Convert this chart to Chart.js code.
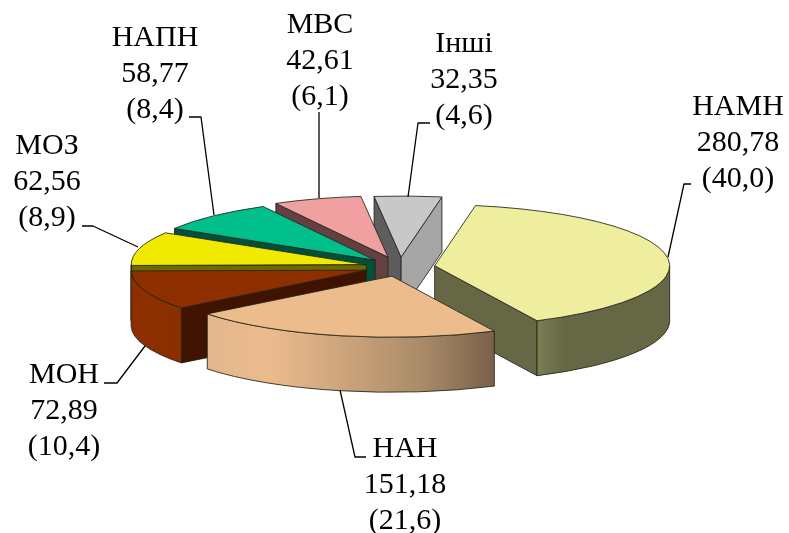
<!DOCTYPE html>
<html lang="uk">
<head>
<meta charset="utf-8">
<title>Pie</title>
<script src="https://cdn.jsdelivr.net/npm/chart.js@4"></script>
<style>
html,body{margin:0;padding:0;background:#fff}
canvas{display:block}
</style>
</head>
<body>
<canvas id="c" width="789" height="533"></canvas>
<script>
// --- data ---
const categories = ['НАМН', 'НАН', 'МОН', 'МОЗ', 'НАПН', 'МВС', 'Інші'];
const amounts = [280.78, 151.18, 72.89, 62.56, 58.77, 42.61, 32.35];
const shares = [40.0, 21.6, 10.4, 8.9, 8.4, 6.1, 4.6];

// --- styles ---
const topColors = ['#EEEE9E', '#EDBC8C', '#8E2F00', '#F0EA00', '#00BF8A', '#F0A0A0', '#C8C8C8'];
const startWallColors = ['#666845', '#B8966F', '#3F1300', '#6E6A00', '#00513B', '#644040', '#5D5D5D'];
const endWallColors = ['#666845', '#7F654D', '#3F1300', '#6E6A00', '#00513B', '#644040', '#A6A6A6'];
const outerWallStops = [
  [[0, '#7C7E54'], [0.2, '#666845'], [1, '#666845']],
  [[0, '#E3B78D'], [0.22, '#EBBB8D'], [0.5, '#C9A27A'], [0.75, '#A98B68'], [1, '#7A604A']],
  [[0, '#8E2F00'], [1, '#8A2E00']],
  [[0, '#6E6A00'], [1, '#6E6A00']],
  [[0, '#00513B'], [1, '#00513B']],
  [[0, '#644040'], [1, '#644040']],
  [[0, '#5D5D5D'], [1, '#5D5D5D']]
];
const explode = [35, 36, 36, 35, 36, 40, 38];
const paintOrder = [6, 5, 4, 3, 2, 0, 1];
const squash = 0.26;
const depthPx = 55;
const radiusPx = 235;
const rotationDeg = 10;

// --- annotation layout: label centre x, first baseline y, leader polyline ---
const labelX = [738, 405, 64, 47, 155, 320, 464];
const labelY = [115, 457, 383, 154, 46, 33, 52];
const lineGap = 36;
const leaders = [
  [[668, 257], [684, 184], [691, 184]],
  [[340, 390], [355, 457], [366, 457]],
  [[145, 346], [117, 383], [104, 383]],
  [[138, 247], [93, 226], [82, 226]],
  [[214, 215], [201, 117], [189, 117]],
  [[319, 198], [319, 112]],
  [[408, 197], [418, 123], [430, 123]]
];

const fmt = (v, d) => v.toFixed(d).replace('.', ',');

const pie3d = {
  id: 'pie3d',
  afterDatasetsUpdate(chart) {
    chart.getDatasetMeta(0).data.forEach((arc, i) => {
      const mid = (arc.startAngle + arc.endAngle) / 2;
      arc.x += Math.cos(mid) * explode[i];
      arc.y += Math.sin(mid) * explode[i];
    });
  },
  beforeDatasetDraw(chart) {
    const ctx = chart.ctx;
    const arcs = chart.getDatasetMeta(0).data;
    const cy = (chart.chartArea.top + chart.chartArea.bottom) / 2;
    const D = depthPx / squash;
    const flat = () => { ctx.translate(0, cy); ctx.scale(1, squash); ctx.translate(0, -cy); };
    const edge = () => { ctx.lineWidth = 1; ctx.strokeStyle = 'rgba(35,35,25,0.85)'; ctx.lineJoin = 'round'; ctx.stroke(); };

    paintOrder.forEach(i => {
      const arc = arcs[i];
      const { x, y, startAngle: a0, endAngle: a1, outerRadius: r } = arc;

      const radial = (a, color) => {
        ctx.save(); flat();
        ctx.beginPath();
        ctx.moveTo(x, y);
        ctx.lineTo(x + Math.cos(a) * r, y + Math.sin(a) * r);
        ctx.lineTo(x + Math.cos(a) * r, y + Math.sin(a) * r + D);
        ctx.lineTo(x, y + D);
        ctx.closePath();
        ctx.fillStyle = color;
        ctx.fill();
        ctx.restore();
        edge();
      };
      if (Math.cos(a0) < 0) radial(a0, startWallColors[i]);
      if (Math.cos(a1) > 0) radial(a1, endWallColors[i]);

      const f0 = Math.max(a0, 0), f1 = Math.min(a1, Math.PI);
      if (f1 > f0) {
        const xs = [x + Math.cos(f0) * r, x + Math.cos(f1) * r];
        const g = ctx.createLinearGradient(Math.min(...xs), 0, Math.max(...xs), 0);
        outerWallStops[i].forEach(s => g.addColorStop(s[0], s[1]));
        ctx.save(); flat();
        ctx.beginPath();
        ctx.arc(x, y, r, f0, f1);
        ctx.arc(x, y + D, r, f1, f0, true);
        ctx.closePath();
        ctx.fillStyle = g;
        ctx.fill();
        ctx.restore();
        edge();
      }

      ctx.save(); flat();
      arc.draw(ctx);
      ctx.beginPath();
      ctx.moveTo(x, y);
      ctx.arc(x, y, r, a0, a1);
      ctx.closePath();
      ctx.restore();
      edge();
    });
    return false;
  },
  afterDraw(chart) {
    const ctx = chart.ctx;
    ctx.save();
    ctx.strokeStyle = '#000';
    ctx.lineWidth = 1.3;
    leaders.forEach(pts => {
      ctx.beginPath();
      pts.forEach((p, k) => k ? ctx.lineTo(p[0], p[1]) : ctx.moveTo(p[0], p[1]));
      ctx.stroke();
    });
    ctx.fillStyle = '#000';
    ctx.font = '30px "Liberation Serif"';
    ctx.textAlign = 'center';
    ctx.textBaseline = 'alphabetic';
    categories.forEach((name, i) => {
      ctx.fillText(name, labelX[i], labelY[i]);
      ctx.fillText(fmt(amounts[i], 2), labelX[i], labelY[i] + lineGap);
      ctx.fillText('(' + fmt(shares[i], 1) + ')', labelX[i], labelY[i] + 2 * lineGap);
    });
    ctx.restore();
  }
};

new Chart(document.getElementById('c'), {
  type: 'pie',
  data: {
    labels: categories,
    datasets: [{ data: amounts, backgroundColor: topColors, borderWidth: 0 }]
  },
  options: {
    responsive: false,
    animation: false,
    events: [],
    rotation: rotationDeg,
    radius: radiusPx,
    layout: { padding: { left: 11, top: 1 } },
    plugins: { legend: { display: false }, tooltip: { enabled: false } }
  },
  plugins: [pie3d]
});
</script>
</body>
</html>
